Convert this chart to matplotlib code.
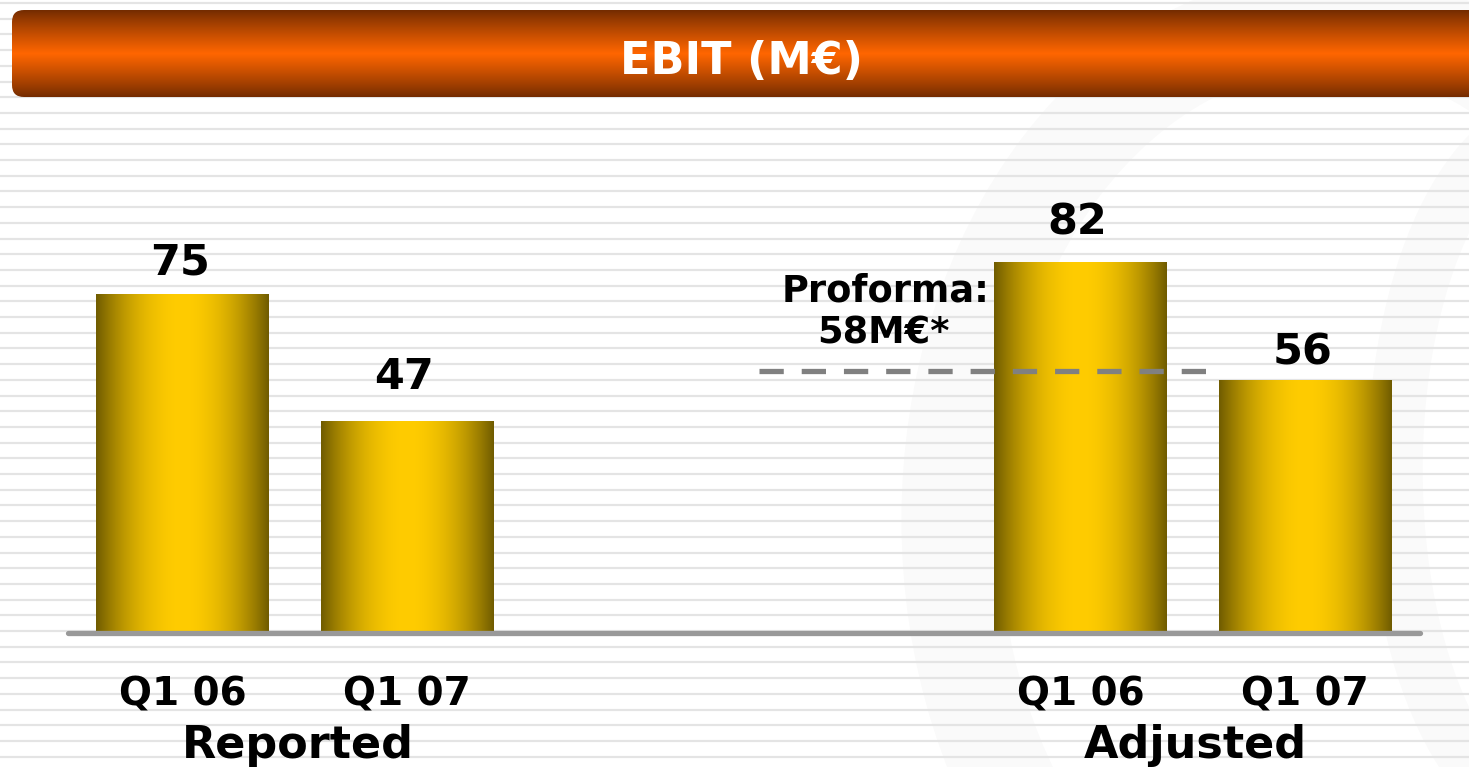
import numpy as np
import matplotlib.pyplot as plt
from matplotlib.patches import FancyBboxPatch, Ellipse

# data
groups = ['Reported', 'Adjusted']
quarters = ['Q1 06', 'Q1 07', 'Q1 06', 'Q1 07']
ebit = [75, 47, 82, 56]
proforma = 58
proforma_text = ['Proforma:', '58M€*']
title = 'EBIT (M€)'

plt.rcParams['font.family'] = 'DejaVu Sans'
plt.rcParams['font.weight'] = 'bold'

W, H = 1469, 767
fig = plt.figure(figsize=(W / 100, H / 100), dpi=100)
fig.patch.set_facecolor('white')

# background layer in pixel units
bg = fig.add_axes([0, 0, 1, 1])
bg.axis('off')

# faint watermark swirl
bg.add_patch(Ellipse((1330, 520), 760, 1000, fill=False, ec='black', lw=70, alpha=0.018))
bg.add_patch(Ellipse((1560, 470), 330, 700, fill=False, ec='black', lw=40, alpha=0.018))

# horizontal stripes
for y in np.arange(3, H, 15.7):
    bg.axhline(y, color='#e4e4e4', lw=1.6, zorder=1)

# title banner with vertical gradient
t = np.linspace(0, 1, 200)
w = np.clip(1 - np.abs((t - 0.5) / 0.5), 0, 1) ** 0.9
dark = np.array([0.45, 0.17, 0.0])
light = np.array([1.0, 0.40, 0.0])
grad = dark + (light - dark) * w[:, None]
banner = FancyBboxPatch((12, 10), 1500, 87, boxstyle='round,pad=0,rounding_size=12',
                        transform=bg.transData, fc='none', ec='none')
bg.add_patch(banner)
im = bg.imshow(grad[:, None, :], extent=(12, 1512, 97, 10), aspect='auto', zorder=3)
im.set_clip_path(banner)
bg.text(742, 74, title, color='white', fontsize=32, ha='center', va='baseline', zorder=4)
bg.set_xlim(0, W)
bg.set_ylim(H, 0)

# chart layer
ax = fig.add_axes([0, 0, 1, 1])
ax.patch.set_alpha(0)
ax.axis('off')

x_pos = np.array([0, 1, 4, 5])
bars = ax.bar(x_pos, ebit, width=0.77, color='none', edgecolor='none')

s = np.linspace(0, 1, 200)
wb = 1 - ((s - 0.5) / 0.5) ** 2
bar_dark = np.array([0.44, 0.36, 0.0])
bar_gold = np.array([1.0, 0.80, 0.0])
bar_grad = bar_dark + (bar_gold - bar_dark) * wb[:, None]
for b in bars:
    x0, y0 = b.get_x(), b.get_y()
    img = ax.imshow(bar_grad[None, :, :], extent=(x0, x0 + b.get_width(), y0, y0 + b.get_height()),
                    aspect='auto', zorder=2)
    img.set_clip_path(b)

# baseline
ax.axhline(0, xmin=68 / W, xmax=1420 / W, color='#999999', lw=3.8, solid_capstyle='round', zorder=5)

# proforma dashed line
ax.hlines(proforma, 2.57, 4.56, colors='#808080', lw=3.8, linestyles=(0, (4.6, 3.4)), zorder=6)
ax.annotate(proforma_text[0], xy=(2.57, proforma), xytext=(91, 50), textcoords='offset points',
            ha='center', va='baseline', fontsize=26.5)
ax.annotate(proforma_text[1], xy=(2.57, proforma), xytext=(89, 19.5), textcoords='offset points',
            ha='center', va='baseline', fontsize=26.5)

# value labels
label_pad = [14, 23, 20, 11]
for xp, v, p in zip(x_pos, ebit, label_pad):
    ax.annotate(str(v), xy=(xp, v), xytext=(-2, p), textcoords='offset points',
                ha='center', va='baseline', fontsize=31)

# category labels
for xp, q in zip(x_pos, quarters):
    ax.annotate(q, xy=(xp, 0), xytext=(0, -52.5), textcoords='offset points',
                ha='center', va='baseline', fontsize=28)

for i, g in enumerate(groups):
    gx = x_pos[2 * i:2 * i + 2].mean()
    ax.annotate(g, xy=(gx, 0), xytext=(2, -90), textcoords='offset points',
                ha='center', va='baseline', fontsize=32)

ax.set_xlim(-182.5 / 224.5, (W - 182.5) / 224.5)
ax.set_ylim(-(H - 633) / 4.52, 633 / 4.52)

fig.savefig('out.png', dpi=100)
